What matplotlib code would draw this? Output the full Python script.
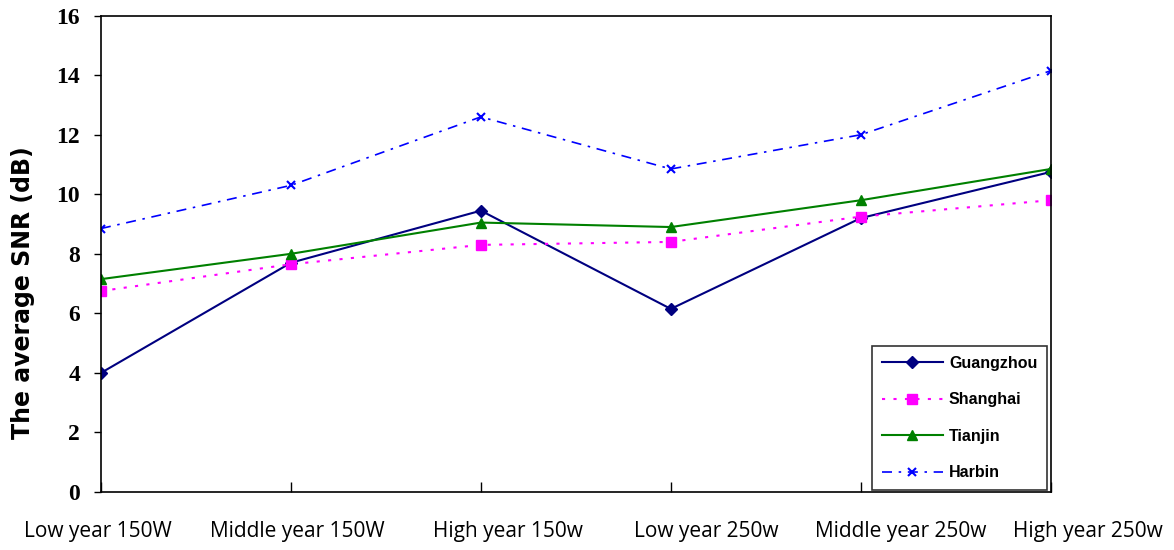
import matplotlib
matplotlib.use("Agg")
import matplotlib.pyplot as plt
from matplotlib.transforms import ScaledTranslation

categories = ["Low year 150W", "Middle year 150W", "High year 150w",
              "Low year 250w", "Middle year 250w", "High year 250w"]
guangzhou = [4.0, 7.7, 9.45, 6.15, 9.2, 10.75]
shanghai = [6.75, 7.65, 8.3, 8.4, 9.25, 9.8]
tianjin = [7.15, 8.0, 9.05, 8.9, 9.8, 10.85]
harbin = [8.85, 10.3, 12.6, 10.85, 12.0, 14.15]
yticks = [0, 2, 4, 6, 8, 10, 12, 14, 16]

fig = plt.figure(figsize=(11.74, 5.5), dpi=100)
ax = fig.add_axes([0.086, 0.1055, 0.809, 0.866])
x = list(range(len(categories)))

ax.plot(x, guangzhou, color="#000080", lw=1.5, marker="D", ms=6, label="Guangzhou")
ax.plot(x, shanghai, color="#FF00FF", lw=1.5, ls=(0, (1.5, 4)), marker="s", ms=7, label="Shanghai")
ax.plot(x, tianjin, color="#008000", lw=1.5, marker="^", ms=7, label="Tianjin")
ax.plot(x, harbin, color="#0000FF", lw=1.2, ls=(0, (6, 4, 1.5, 4)), marker="x", ms=6,
        mew=1.5, label="Harbin")

ax.set_xlim(0, 5)
ax.set_ylim(0, 16)
ax.set_yticks(yticks)
ax.set_yticklabels([str(v) for v in yticks], fontfamily="Liberation Serif",
                   fontweight="bold", fontsize=17)
ax.set_xticks(x)
ax.set_xticklabels(categories, fontfamily="Open Sans", fontsize=15)
ax.tick_params(axis="x", direction="in", length=7, pad=21, width=1)
ax.tick_params(axis="y", direction="out", length=5, width=1, pad=10)

# label horizontal offsets (pixels) as in the reference
offsets = [-3, 6, 27, 35, 40, 37]
for lab, dx in zip(ax.get_xticklabels(), offsets):
    lab.set_transform(lab.get_transform() + ScaledTranslation(dx / 100, 0, fig.dpi_scale_trans))

for s in ax.spines.values():
    s.set_linewidth(1.2)
    s.set_color("black")

ax.set_ylabel("The average SNR (dB)", fontfamily="DejaVu Sans", fontweight="bold",
              fontsize=17)
ax.yaxis.set_label_coords(-0.069, 0.418)

leg = ax.legend(loc="lower right", frameon=True, fancybox=False, shadow=False,
                edgecolor="black", prop={"family": "Liberation Sans", "weight": "bold", "size": 11.5},
                handlelength=3.8, handletextpad=0.4, borderpad=0.6, labelspacing=1.35,
                borderaxespad=0, bbox_to_anchor=(0.996, 0.004))
leg.get_frame().set_linewidth(1.2)

fig.savefig("out.png", dpi=100)
